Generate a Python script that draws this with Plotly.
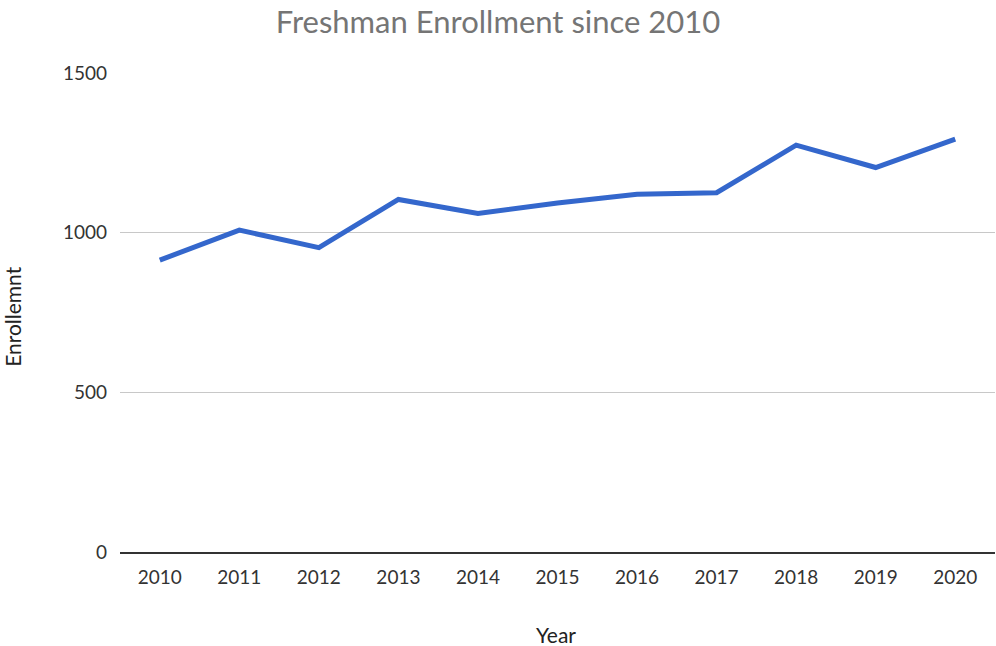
import plotly.graph_objects as go

# Freshman enrollment by year
years = ["2010", "2011", "2012", "2013", "2014", "2015",
         "2016", "2017", "2018", "2019", "2020"]
enrollment = [914, 1008, 953, 1104, 1060, 1093, 1120, 1125, 1274, 1204, 1293]
y_ticks = [0, 500, 1000, 1500]

FONT = "Lato, 'Open Sans', sans-serif"

fig = go.Figure(
    go.Scatter(
        x=years,
        y=enrollment,
        mode="lines",
        line=dict(color="#3467CC", width=5),
        hoverinfo="x+y",
    )
)

fig.update_layout(
    width=996,
    height=646,
    margin=dict(l=120, r=1, t=73, b=94),
    paper_bgcolor="white",
    plot_bgcolor="white",
    showlegend=False,
    font=dict(family=FONT, size=18, color="#333333"),
    title=dict(
        text="Freshman Enrollment since 2010",
        x=0.5,
        xanchor="center",
        y=0.966,
        yanchor="middle",
        font=dict(family=FONT, size=31, color="#757575"),
    ),
    xaxis=dict(
        type="category",
        range=[-0.5, 10.5],
        showgrid=False,
        showline=True,
        linecolor="#333333",
        linewidth=1.5,
        ticks="",
        ticklabelstandoff=7,
        tickfont=dict(size=19, color="#333333"),
        fixedrange=True,
    ),
    yaxis=dict(
        range=[0, 1500],
        tickvals=y_ticks,
        showgrid=True,
        gridcolor="#C8C8C8",
        gridwidth=1,
        zeroline=False,
        showline=False,
        ticks="",
        ticklabelstandoff=12,
        tickfont=dict(size=19, color="#333333"),
        fixedrange=True,
    ),
    annotations=[
        dict(
            text="Year",
            xref="paper", yref="paper",
            x=0.498, y=-0.173,
            xanchor="center", yanchor="middle",
            showarrow=False,
            font=dict(family=FONT, size=21, color="#222222"),
        ),
        dict(
            text="Enrollemnt",
            xref="paper", yref="paper",
            x=-0.1223, y=0.493,
            xanchor="center", yanchor="middle",
            textangle=-90,
            showarrow=False,
            font=dict(family=FONT, size=21, color="#222222"),
        ),
    ],
)

fig.write_html("out.html")
